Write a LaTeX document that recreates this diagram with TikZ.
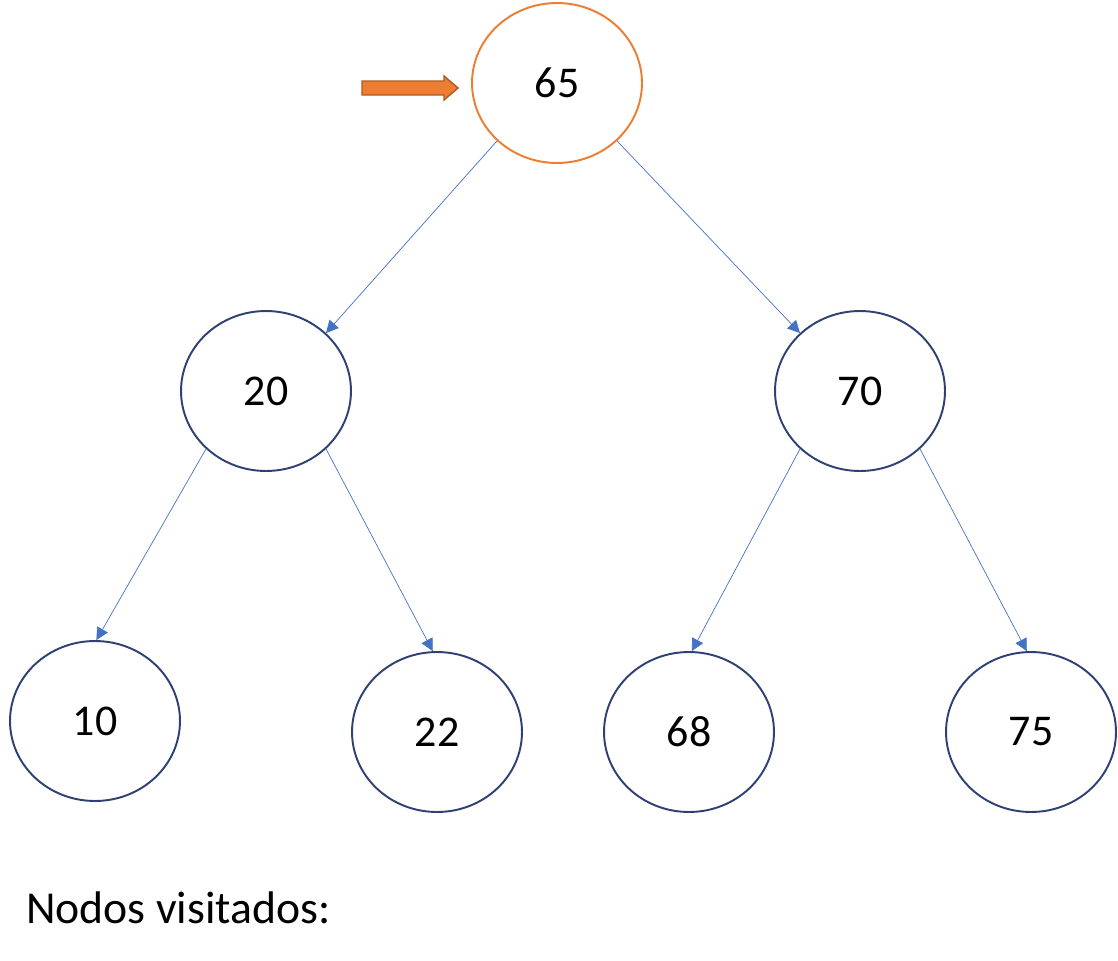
\documentclass[tikz,border=0pt]{standalone}
\usepackage{fontspec}
\setmainfont{Carlito}
\usetikzlibrary{positioning}
\usetikzlibrary{arrows.meta}
\usetikzlibrary{shapes.geometric}
\definecolor{darknavy}{RGB}{47,64,116}
\definecolor{edgeblue}{RGB}{68,114,196}
\definecolor{orangeline}{RGB}{237,125,49}
\definecolor{orangedark}{RGB}{174,90,33}
\tikzset {
  x=0.02cm, y=-0.02cm,
  % tree vertex style
  main/.style = {draw=darknavy, line width=1.1pt, ellipse, minimum width=3.4cm, minimum height=3.2cm, font=\fontsize{25}{30}\selectfont},
  % current vertex
  current/.style = {draw=orangeline},
  % child edges
  edge/.style = {edgeblue, -{Triangle[length=7pt,width=7pt]}},
}
\begin{document}
\begin{tikzpicture}
      \useasboundingbox (0,0) rectangle (1118,960);

      \node[main, current] (65) at (557, 83) {65};

      \node[main] (20) at (266, 391) {20};
      \node[main] (70) at (860, 391) {70};

      \node[main] (10) at (95, 721)  {10};
      \node[main] (22) at (437, 732) {22};
      \node[main] (68) at (689, 732) {68};
      \node[main] (75) at (1031, 732) {75};

      \draw [edge] (65.224) -- (20.44);
      \draw [edge] (65.316) -- (70.136);
      \draw [edge] (20.224) -- (10.89);
      \draw [edge] (20.316) -- (22.93);
      \draw [edge] (70.224) -- (68.88);
      \draw [edge] (70.316) -- (75.93);

      % pointer to the visited vertex
      \draw[orangedark, fill=orangeline, thick]
        (362,81) -- (444,81) -- (444,76) -- (458,88) -- (444,100) -- (444,95) -- (362,95) -- cycle;

      \node[anchor=west, font=\fontsize{26}{31}\selectfont] (visited) at (20, 908) {Nodos visitados:};
\end{tikzpicture}
\end{document}
